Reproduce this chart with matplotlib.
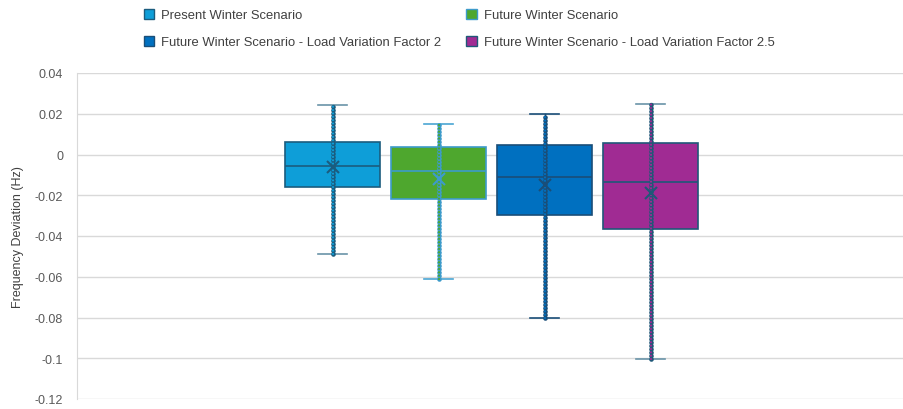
import matplotlib
matplotlib.use("Agg")
import matplotlib.pyplot as plt
import matplotlib.patches as patches

plt.rcParams['font.family'] = ['Liberation Sans', 'DejaVu Sans']
plt.rcParams['lines.scale_dashes'] = False

# Box & whisker summary values (Hz)
scenarios = ["Present Winter Scenario",
             "Future Winter Scenario",
             "Future Winter Scenario - Load Variation Factor 2",
             "Future Winter Scenario - Load Variation Factor 2.5"]
whisLow = [-0.0489, -0.0610, -0.0804, -0.1002]
q1 = [-0.0158, -0.0220, -0.0296, -0.0368]
median = [-0.0054, -0.0083, -0.0111, -0.0137]
q3 = [0.0062, 0.0036, 0.0046, 0.0057]
whisHigh = [0.0245, 0.0152, 0.0200, 0.0250]
mean = [-0.0060, -0.0119, -0.0152, -0.0190]

yTicks = [0.04, 0.02, 0, -0.02, -0.04, -0.06, -0.08, -0.1, -0.12]
yTickLabels = ['0.04', '0.02', '0', '-0.02', '-0.04', '-0.06', '-0.08', '-0.1', '-0.12']

#Colours
fillColors = ['#0E9ED8', '#4EA72E', '#0070C0', '#A02B93']
edgeColors = ['#1B5C7E', '#3D9BCB', '#1A4E78', '#1F5878']
capColors = ['#6A94A8', '#4AA5D3', '#1A4E78', '#6A94A8']

fig = plt.figure(figsize=(9.04, 4.10), dpi=100)
ax = fig.add_axes([77/904, 10/410, 827/904, 326/410])

positions = [0, 1, 2, 3]
boxWidth = 0.9

for i in range(len(scenarios)):
    stats = [dict(whislo=whisLow[i], q1=q1[i], med=median[i], q3=q3[i],
                  whishi=whisHigh[i], mean=mean[i], fliers=[])]
    ax.bxp(stats, positions=[positions[i]], widths=boxWidth, patch_artist=True,
           showmeans=True, meanline=False, capwidths=0.28,
           boxprops=dict(facecolor=fillColors[i], edgecolor=edgeColors[i], linewidth=1.2),
           medianprops=dict(color=edgeColors[i], linewidth=1.2),
           whiskerprops=dict(color=edgeColors[i], linewidth=1.0),
           capprops=dict(color=capColors[i], linewidth=1.2),
           meanprops=dict(marker='x', markeredgecolor=edgeColors[i], markersize=8,
                          markeredgewidth=1.5, zorder=5),
           zorder=2)

    #Inner points drawn as a chain of rings along the whisker
    outer, = ax.plot([positions[i], positions[i]], [whisLow[i], whisHigh[i]],
                     color=edgeColors[i], linewidth=3.4, zorder=3)
    outer.set_dashes((0.01, 2.4))
    outer.set_dash_capstyle('round')
    inner, = ax.plot([positions[i], positions[i]], [whisLow[i], whisHigh[i]],
                     color=fillColors[i], linewidth=1.6, zorder=4)
    inner.set_dashes((0.01, 2.4))
    inner.set_dash_capstyle('round')

ax.set_xlim(-2.41, 5.39)
ax.set_ylim(-0.12, 0.04)
ax.set_yticks(yTicks)
ax.set_yticklabels(yTickLabels)
ax.set_xticks([])
ax.tick_params(axis='y', length=0, pad=10, labelsize=9, labelcolor='#595959')
ax.yaxis.grid(True, color='#D9D9D9', linewidth=1.0, zorder=0)
ax.set_axisbelow(True)
for side in ['top', 'right', 'bottom']:
    ax.spines[side].set_visible(False)
ax.spines['left'].set_color('#D9D9D9')
ax.set_ylabel('Frequency Deviation (Hz)', fontsize=9, color='#404040', labelpad=8)

#Legend, ordered so rows read across like the original
handles = [patches.Patch(facecolor=fillColors[i], edgecolor=edgeColors[i]) for i in range(len(scenarios))]
order = [0, 2, 1, 3]
fig.legend([handles[i] for i in order], [scenarios[i] for i in order],
           loc='upper left', bbox_to_anchor=(132/904, 1.005), ncol=2,
           frameon=False, fontsize=9.4, labelcolor='#404040', handlelength=0.8, handleheight=0.8,
           columnspacing=1.9, handletextpad=0.55, labelspacing=1.1)

fig.savefig('out.png', dpi=100)
